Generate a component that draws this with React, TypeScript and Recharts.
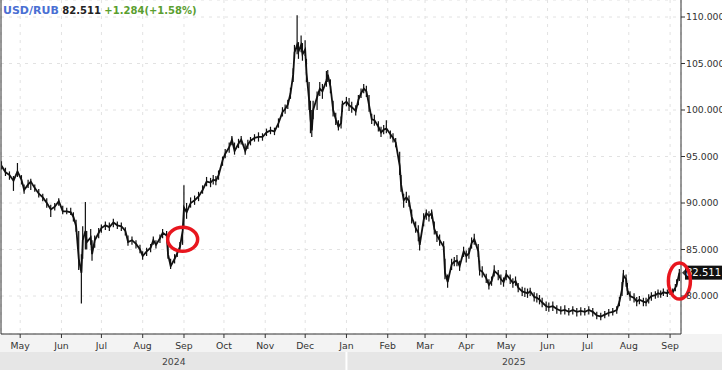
import type { JSX } from 'react'
import {
  ComposedChart,
  Bar,
  Line,
  XAxis,
  YAxis,
  CartesianGrid,
  ReferenceLine,
  ReferenceDot,
} from 'recharts'

const dates = [
  '2024-04-17', '2024-04-20', '2024-04-23', '2024-04-26', '2024-04-29', '2024-05-02', '2024-05-04', '2024-05-07',
  '2024-05-09', '2024-05-12', '2024-05-15', '2024-05-18', '2024-05-21', '2024-05-24', '2024-05-27', '2024-05-30',
  '2024-06-02', '2024-06-05', '2024-06-08', '2024-06-10', '2024-06-12', '2024-06-14', '2024-06-16', '2024-06-17',
  '2024-06-19', '2024-06-20', '2024-06-23', '2024-06-24', '2024-06-26', '2024-06-29', '2024-07-01', '2024-07-04',
  '2024-07-07', '2024-07-10', '2024-07-13', '2024-07-16', '2024-07-19', '2024-07-21', '2024-07-24', '2024-07-27',
  '2024-07-30', '2024-08-01', '2024-08-04', '2024-08-07', '2024-08-09', '2024-08-11', '2024-08-14', '2024-08-16',
  '2024-08-19', '2024-08-20', '2024-08-22', '2024-08-25', '2024-08-27', '2024-08-29', '2024-08-31', '2024-09-01',
  '2024-09-03', '2024-09-06', '2024-09-09', '2024-09-12', '2024-09-15', '2024-09-18', '2024-09-21', '2024-09-23',
  '2024-09-25', '2024-09-27', '2024-09-30', '2024-10-02', '2024-10-05', '2024-10-07', '2024-10-09', '2024-10-12',
  '2024-10-14', '2024-10-17', '2024-10-19', '2024-10-21', '2024-10-24', '2024-10-27', '2024-10-30', '2024-11-02',
  '2024-11-05', '2024-11-08', '2024-11-11', '2024-11-14', '2024-11-16', '2024-11-18', '2024-11-20', '2024-11-22',
  '2024-11-23', '2024-11-25', '2024-11-26', '2024-11-28', '2024-11-29', '2024-12-01', '2024-12-02', '2024-12-04',
  '2024-12-05', '2024-12-06', '2024-12-07', '2024-12-10', '2024-12-12', '2024-12-14', '2024-12-17', '2024-12-18',
  '2024-12-20', '2024-12-22', '2024-12-24', '2024-12-26', '2024-12-28', '2024-12-29', '2025-01-01', '2025-01-03',
  '2025-01-05', '2025-01-08', '2025-01-10', '2025-01-12', '2025-01-14', '2025-01-16', '2025-01-18', '2025-01-20',
  '2025-01-22', '2025-01-25', '2025-01-27', '2025-01-29', '2025-01-31', '2025-02-03', '2025-02-05', '2025-02-07',
  '2025-02-10', '2025-02-11', '2025-02-13', '2025-02-15', '2025-02-17', '2025-02-19', '2025-02-22', '2025-02-24',
  '2025-02-25', '2025-02-28', '2025-03-02', '2025-03-04', '2025-03-06', '2025-03-08', '2025-03-10', '2025-03-12',
  '2025-03-15', '2025-03-16', '2025-03-18', '2025-03-21', '2025-03-23', '2025-03-25', '2025-03-27', '2025-03-30',
  '2025-04-01', '2025-04-03', '2025-04-05', '2025-04-07', '2025-04-10', '2025-04-11', '2025-04-13', '2025-04-16',
  '2025-04-18', '2025-04-20', '2025-04-22', '2025-04-25', '2025-04-27', '2025-04-29', '2025-05-01', '2025-05-04',
  '2025-05-06', '2025-05-08', '2025-05-10', '2025-05-13', '2025-05-15', '2025-05-17', '2025-05-19', '2025-05-22',
  '2025-05-24', '2025-05-26', '2025-05-28', '2025-05-31', '2025-06-02', '2025-06-05', '2025-06-08', '2025-06-11',
  '2025-06-14', '2025-06-17', '2025-06-20', '2025-06-23', '2025-06-26', '2025-06-29', '2025-07-02', '2025-07-05',
  '2025-07-08', '2025-07-11', '2025-07-14', '2025-07-17', '2025-07-20', '2025-07-23', '2025-07-25', '2025-07-27',
  '2025-07-28', '2025-07-30', '2025-07-31', '2025-08-02', '2025-08-05', '2025-08-07', '2025-08-09', '2025-08-12',
  '2025-08-14', '2025-08-16', '2025-08-18', '2025-08-21', '2025-08-23', '2025-08-25', '2025-08-27', '2025-08-30',
  '2025-09-01', '2025-09-03', '2025-09-05', '2025-09-06', '2025-09-08',
]

const closes = [
  94.0, 93.3, 93.0, 92.4, 93.4, 92.5, 91.4, 92.0, 92.3, 91.6, 91.0, 90.6, 90.0, 89.3, 89.6, 90.2,
  89.1, 89.1, 89.0, 88.5, 87.5, 84.0, 82.5, 86.0, 87.0, 85.8, 86.3, 84.5, 86.0, 86.8, 87.3, 87.6,
  87.4, 87.9, 87.6, 87.5, 87.0, 85.8, 86.0, 85.6, 85.0, 84.3, 84.8, 85.2, 86.0, 85.5, 86.2, 86.8,
  86.5, 84.5, 83.2, 84.0, 84.6, 85.3, 87.0, 89.5, 89.0, 90.0, 90.3, 90.7, 91.4, 92.3, 92.2, 92.5,
  92.4, 93.0, 94.6, 95.3, 96.0, 96.8, 95.6, 96.4, 96.8, 95.6, 96.3, 96.7, 97.0, 97.1, 97.1, 97.6,
  97.8, 97.7, 98.6, 99.8, 100.1, 100.6, 101.8, 103.8, 106.2, 107.0, 106.3, 107.0, 106.0, 106.5, 104.0, 101.0,
  99.0, 97.8, 100.0, 101.4, 102.3, 102.0, 103.2, 103.8, 102.5, 100.0, 99.0, 98.2, 98.6, 100.6, 100.9, 100.5,
  100.3, 99.9, 101.1, 101.8, 102.3, 102.0, 100.5, 99.0, 98.9, 98.2, 97.6, 97.9, 98.0, 97.4, 97.0, 96.5,
  94.0, 92.0, 90.3, 90.6, 90.2, 88.5, 87.3, 86.8, 85.5, 88.2, 88.9, 88.6, 88.9, 87.2, 86.5, 86.0,
  85.3, 82.5, 81.5, 83.4, 83.7, 83.8, 83.2, 84.8, 84.3, 84.6, 85.7, 86.1, 84.8, 82.8, 82.6, 81.9,
  81.2, 81.6, 82.7, 82.3, 81.8, 81.5, 82.3, 81.8, 81.4, 81.6, 80.9, 80.5, 80.4, 80.3, 80.5, 79.9,
  79.8, 79.6, 79.3, 78.9, 78.8, 78.9, 78.6, 78.4, 78.5, 78.3, 78.5, 78.3, 78.4, 78.3, 78.5, 78.3,
  77.9, 77.8, 78.0, 78.2, 78.3, 78.5, 79.4, 80.8, 82.2, 81.8, 80.6, 80.0, 79.8, 79.4, 79.6, 79.4,
  79.3, 79.7, 80.0, 80.1, 80.3, 80.2, 80.4, 80.3, 80.5, 80.4, 80.9, 81.227, 82.511,
]

const highs = [
  94.5, 93.8, 93.4, 92.9, 94.3, 93.0, 92.0, 92.5, 92.6, 92.0, 91.5, 91.0, 90.5, 89.8, 90.0, 90.5,
  89.7, 89.5, 89.5, 89.0, 88.2, 87.0, 84.5, 87.5, 90.1, 87.0, 87.2, 86.0, 86.5, 87.3, 87.7, 88.0,
  87.9, 88.3, 88.0, 87.9, 87.4, 86.5, 86.4, 86.0, 85.5, 84.8, 85.2, 85.6, 86.4, 86.0, 86.6, 87.2,
  87.0, 86.6, 84.0, 84.5, 85.0, 85.8, 87.5, 91.9, 90.0, 90.6, 90.8, 91.2, 91.9, 92.8, 92.7, 93.0,
  92.9, 93.5, 95.0, 95.8, 96.5, 97.2, 96.5, 96.9, 97.2, 96.4, 96.8, 97.1, 97.4, 97.6, 97.5, 98.0,
  98.2, 98.1, 99.1, 100.3, 100.6, 101.1, 102.4, 104.5, 107.0, 110.2, 107.3, 108.0, 107.2, 107.5, 105.5, 103.0,
  101.0, 100.0, 101.0, 102.0, 103.0, 102.8, 104.2, 104.3, 103.3, 101.0, 99.7, 98.9, 99.3, 101.0, 101.4, 101.3,
  100.9, 100.5, 101.6, 102.3, 102.8, 102.6, 101.6, 99.6, 99.5, 98.8, 98.2, 98.4, 98.9, 97.8, 97.5, 97.0,
  95.5, 93.0, 91.0, 91.2, 90.8, 89.3, 88.0, 87.6, 86.3, 88.9, 89.3, 89.1, 89.3, 88.0, 87.0, 86.6,
  85.9, 84.0, 82.3, 84.0, 84.2, 84.4, 83.8, 85.3, 84.9, 85.2, 86.3, 86.7, 85.6, 83.8, 83.2, 82.4,
  81.8, 82.1, 83.3, 82.8, 82.3, 82.0, 82.8, 82.3, 81.9, 82.1, 81.4, 81.0, 80.9, 80.8, 80.9, 80.4,
  80.3, 80.1, 79.8, 79.4, 79.3, 79.4, 79.0, 78.9, 79.0, 78.7, 78.9, 78.7, 78.8, 78.7, 78.9, 78.7,
  78.3, 78.2, 78.4, 78.6, 78.7, 78.9, 79.9, 81.5, 82.8, 82.3, 81.4, 80.5, 80.3, 79.9, 80.0, 79.8,
  79.8, 80.2, 80.4, 80.5, 80.7, 80.6, 80.8, 80.7, 80.9, 80.8, 81.3, 81.8, 82.9,
]

const lows = [
  93.6, 92.9, 92.5, 91.3, 92.8, 92.0, 91.0, 91.6, 91.4, 91.2, 90.6, 90.2, 89.5, 88.5, 89.2, 89.7,
  88.8, 88.8, 88.7, 88.0, 86.9, 82.8, 79.2, 84.0, 85.0, 85.0, 85.5, 83.8, 85.2, 86.2, 86.8, 87.1,
  87.0, 87.4, 87.2, 87.0, 86.5, 85.4, 85.5, 85.1, 84.6, 83.9, 84.3, 84.7, 85.5, 85.1, 85.7, 86.2,
  86.0, 84.0, 82.9, 83.5, 84.2, 84.9, 85.5, 87.5, 88.3, 89.5, 89.8, 90.2, 91.0, 91.8, 91.7, 92.0,
  91.9, 92.5, 94.0, 94.8, 95.4, 96.2, 95.2, 95.9, 96.3, 95.2, 95.8, 96.2, 96.6, 96.6, 96.7, 97.2,
  97.4, 97.3, 98.1, 99.3, 99.6, 100.1, 101.2, 103.0, 105.5, 106.0, 105.5, 106.2, 105.3, 105.8, 103.0, 100.0,
  97.5, 97.1, 99.0, 100.0, 101.5, 101.2, 102.5, 103.0, 101.8, 99.3, 98.4, 97.8, 98.0, 99.8, 100.4, 99.9,
  99.7, 99.4, 100.5, 101.3, 101.8, 101.4, 99.8, 98.5, 98.3, 97.7, 97.1, 97.4, 97.5, 96.9, 96.5, 96.0,
  93.0, 91.2, 89.5, 90.0, 89.6, 87.8, 86.8, 85.9, 84.9, 87.5, 88.2, 88.0, 88.3, 86.6, 85.8, 85.4,
  84.8, 81.8, 80.9, 82.8, 83.2, 83.2, 82.7, 84.2, 83.6, 84.0, 85.1, 85.5, 84.2, 82.2, 82.0, 81.4,
  80.7, 81.1, 82.1, 81.7, 81.2, 81.0, 81.7, 81.3, 80.9, 81.1, 80.4, 80.0, 79.9, 79.8, 80.0, 79.4,
  79.3, 79.1, 78.8, 78.4, 78.3, 78.4, 78.1, 78.0, 78.0, 77.9, 78.0, 77.8, 77.9, 77.9, 78.0, 77.8,
  77.5, 77.4, 77.6, 77.8, 77.9, 78.1, 78.9, 80.0, 81.5, 81.0, 80.1, 79.5, 79.3, 78.9, 79.1, 78.9,
  78.9, 79.2, 79.5, 79.7, 79.8, 79.8, 80.0, 79.9, 80.1, 80.0, 80.5, 81.0, 81.6,
]

const monthTicks = [
  '2024-05-01', '2024-06-01', '2024-07-01', '2024-08-01', '2024-09-01', '2024-10-01',
  '2024-11-01', '2024-12-01', '2025-01-01', '2025-02-01', '2025-03-01', '2025-04-01',
  '2025-05-01', '2025-06-01', '2025-07-01', '2025-08-01', '2025-09-01',
]
const priceTicks = [80, 85, 90, 95, 100, 105, 110]

// the two red rings drawn on the original
const circledDates = ['2024-08-31', '2025-09-08']
const circledValues = [86.1, 81.6]

const symbol = 'USD/RUB'
const change = 1.284
const changePct = 1.58

const MONTHS = ['Jan', 'Feb', 'Mar', 'Apr', 'May', 'Jun', 'Jul', 'Aug', 'Sep', 'Oct', 'Nov', 'Dec']
const DAY = 86400000
const toDay = (s: string): number => {
  const [y, m, d] = s.split('-').map(Number)
  return Date.UTC(y, m - 1, d) / DAY
}

const data = dates.map((d, i) => ({
  t: toDay(d),
  range: [lows[i], highs[i]],
  close: closes[i],
}))

const X_MIN = toDay('2024-04-16') + 0.6
const X_MAX = toDay('2025-09-09') + 0.2
const NEW_YEAR = toDay('2025-01-01')
const yearTicks = [(X_MIN + NEW_YEAR) / 2, NEW_YEAR, (NEW_YEAR + X_MAX) / 2]
const last = closes[closes.length - 1]

const FONT = 'DejaVu Sans'
const AXIS_SIZE = 9.3
const ringRadii = [
  [15, 12],
  [11, 18],
]

const YearTick = (props: any): JSX.Element => {
  const { x, y, payload } = props
  if (payload.value === NEW_YEAR) {
    return <rect x={x - 1} y={y} width={2} height={18} fill="#fff" />
  }
  const year = new Date(payload.value * DAY).getUTCFullYear()
  return (
    <text x={x} y={y + 6} dy="0.71em" textAnchor="middle" fontSize={AXIS_SIZE} fontFamily={FONT} fill="#444">
      {year}
    </text>
  )
}

const PriceTag = (props: any): JSX.Element => {
  const { viewBox } = props
  const x = viewBox.x + viewBox.width
  const y = viewBox.y
  return (
    <g>
      <polygon points={`${x + 1},${y} ${x + 5},${y - 4} ${x + 5},${y + 4}`} fill="#333" />
      <rect x={x + 4} y={y - 7} width={41} height={14} fill="#111" />
      <text x={x + 5} y={y} dy="0.36em" fontSize={10} fontFamily={FONT} fill="#fff">
        {last.toFixed(3)}
      </text>
    </g>
  )
}

export default function App(): JSX.Element {
  return (
    <div style={{ position: 'relative', width: 722, height: 370, fontFamily: FONT }}>
      <style>{'body{margin:0}'}</style>
      <div style={{ position: 'absolute', left: 0, top: 334, width: 722, height: 18, background: '#f3f3f3' }} />
      <div style={{ position: 'absolute', left: 0, top: 352, width: 722, height: 18, background: '#e6e6e6' }} />
      <div style={{ position: 'absolute', left: 0, top: 0 }}>
        <ComposedChart width={722} height={370} data={data} margin={{ top: 0, right: 0, bottom: 0, left: 0 }}>
          <CartesianGrid xAxisId="m" yAxisId="p" stroke="#e2e2e2" strokeDasharray="3 5" />
          <XAxis
            xAxisId="m"
            dataKey="t"
            type="number"
            domain={[X_MIN, X_MAX]}
            allowDataOverflow
            ticks={monthTicks.map(toDay)}
            tickFormatter={(v: number) => MONTHS[new Date(v * DAY).getUTCMonth()]}
            height={18}
            tickSize={4}
            tickMargin={4}
            stroke="#333"
            tick={{ fill: '#333', fontSize: AXIS_SIZE, fontFamily: FONT }}
          />
          <XAxis
            xAxisId="y"
            dataKey="t"
            type="number"
            domain={[X_MIN, X_MAX]}
            allowDataOverflow
            ticks={yearTicks}
            height={18}
            axisLine={false}
            tickLine={false}
            tickSize={0}
            tickMargin={0}
            tick={<YearTick />}
          />
          <YAxis
            yAxisId="p"
            orientation="right"
            domain={[75.914, 111.828]}
            allowDataOverflow
            ticks={priceTicks}
            tickFormatter={(v: number) => v.toFixed(3)}
            width={41}
            tickSize={4}
            tickMargin={1}
            stroke="#333"
            tick={{ fill: '#333', fontSize: AXIS_SIZE, fontFamily: FONT, textAnchor: 'start' }}
          />
          <YAxis yAxisId="l" orientation="left" width={1} tick={false} tickLine={false} stroke="#333" />
          <Bar
            xAxisId="m"
            yAxisId="p"
            dataKey="range"
            barSize={3}
            fill="#111"
            isAnimationActive={false}
          />
          <Line
            xAxisId="m"
            yAxisId="p"
            dataKey="close"
            stroke="#111"
            strokeWidth={1.8}
            dot={false}
            isAnimationActive={false}
          />
          <ReferenceLine
            xAxisId="m"
            yAxisId="p"
            y={last}
            stroke="none"
            label={<PriceTag />}
          />
          {circledDates.map((d, i) => (
            <ReferenceDot
              key={d}
              xAxisId="m"
              yAxisId="p"
              x={toDay(d)}
              y={circledValues[i]}
              ifOverflow="visible"
              shape={(p: any) => (
                <ellipse
                  cx={p.cx}
                  cy={p.cy}
                  rx={ringRadii[i][0]}
                  ry={ringRadii[i][1]}
                  fill="none"
                  stroke="#e8161e"
                  strokeWidth={3.5}
                />
              )}
            />
          ))}
        </ComposedChart>
      </div>
      <div
        style={{
          position: 'absolute',
          left: 3,
          top: 4,
          fontSize: 11,
          lineHeight: '13px',
          whiteSpace: 'pre',
        }}
      >
        <span style={{ color: '#4a6fd3', fontWeight: 'bold' }}>{symbol}</span>
        <span style={{ color: '#222', fontWeight: 'bold', fontSize: 10 }}> {last.toFixed(3)}</span>
        <span style={{ color: '#5a9e2f', fontWeight: 'bold', fontSize: 10 }}>
          {' '}+{change.toFixed(3)}(+{changePct.toFixed(2)}%)
        </span>
      </div>
    </div>
  )
}
